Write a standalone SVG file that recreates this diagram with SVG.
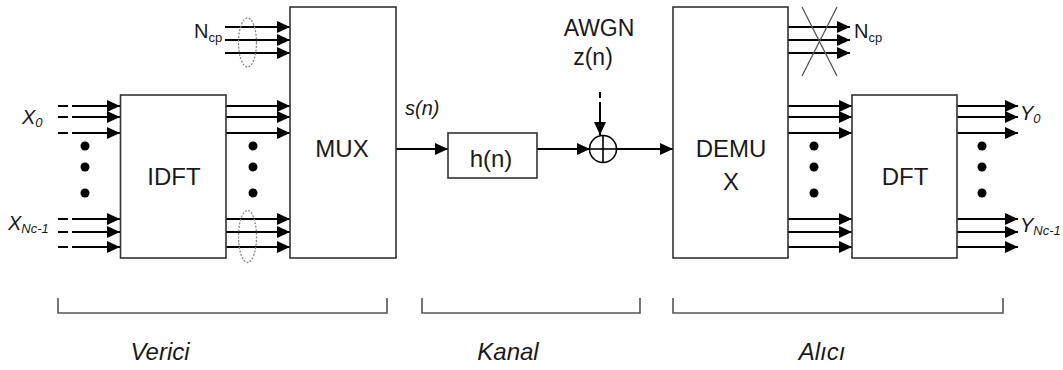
<svg xmlns="http://www.w3.org/2000/svg" width="1063" height="370" viewBox="0 0 1063 370">
<style>
.box{fill:#fff;stroke:#333;stroke-width:1.6}
.ln{stroke:#000;stroke-width:2;fill:none}
.arr{stroke:#000;stroke-width:2;fill:none;marker-end:url(#ah)}
.ell{fill:none;stroke:#888;stroke-width:1.3;stroke-dasharray:2 1.5}
.br{fill:none;stroke:#555;stroke-width:1.6}
.t{font-family:"Liberation Sans",Arial,sans-serif;fill:#1a1a1a}
.big{font-size:24px}
.lab{font-size:20px}
.sub{font-size:13px}
.it{font-style:italic}
.dot{fill:#000}
</style>
<defs>
<marker id="ah" markerWidth="14" markerHeight="12" refX="13" refY="6" orient="auto" markerUnits="userSpaceOnUse">
<path d="M0,0 L13,6 L0,12 z" fill="#000"/>
</marker>
</defs>

<g id="connectors">
<!-- inputs to IDFT -->
<line class="ln" x1="58" y1="106" x2="68" y2="106"/><line class="arr" x1="72" y1="106" x2="120" y2="106"/>
<line class="ln" x1="58" y1="117" x2="68" y2="117"/><line class="arr" x1="72" y1="117" x2="120" y2="117"/>
<line class="ln" x1="58" y1="133" x2="68" y2="133"/><line class="arr" x1="72" y1="133" x2="120" y2="133"/>
<line class="ln" x1="58" y1="219" x2="68" y2="219"/><line class="arr" x1="72" y1="219" x2="120" y2="219"/>
<line class="ln" x1="58" y1="232" x2="68" y2="232"/><line class="arr" x1="72" y1="232" x2="120" y2="232"/>
<line class="ln" x1="58" y1="247" x2="68" y2="247"/><line class="arr" x1="72" y1="247" x2="120" y2="247"/>
<!-- Ncp into MUX -->
<line class="arr" x1="225" y1="27" x2="290" y2="27"/>
<line class="arr" x1="225" y1="40" x2="290" y2="40"/>
<line class="arr" x1="225" y1="53" x2="290" y2="53"/>
<!-- IDFT to MUX -->
<line class="arr" x1="226" y1="106" x2="290" y2="106"/>
<line class="arr" x1="226" y1="117" x2="290" y2="117"/>
<line class="arr" x1="226" y1="133" x2="290" y2="133"/>
<line class="arr" x1="226" y1="219" x2="290" y2="219"/>
<line class="arr" x1="226" y1="232" x2="290" y2="232"/>
<line class="arr" x1="226" y1="247" x2="290" y2="247"/>
<!-- MUX to h(n) -->
<line class="arr" x1="396" y1="149" x2="448" y2="149"/>
<!-- h(n) to adder -->
<line class="arr" x1="537" y1="149" x2="590" y2="149"/>
<!-- AWGN to adder -->
<line class="ln" x1="600" y1="92" x2="600" y2="98"/>
<line class="arr" x1="600" y1="102" x2="600" y2="135"/>
<!-- adder to DEMUX -->
<line class="arr" x1="617" y1="149" x2="673" y2="149"/>
<!-- DEMUX Ncp out -->
<line class="arr" x1="788" y1="27" x2="850" y2="27"/>
<line class="arr" x1="788" y1="40" x2="850" y2="40"/>
<line class="arr" x1="788" y1="53" x2="850" y2="53"/>
<!-- DEMUX to DFT -->
<line class="arr" x1="788" y1="106" x2="852" y2="106"/>
<line class="arr" x1="788" y1="117" x2="852" y2="117"/>
<line class="arr" x1="788" y1="133" x2="852" y2="133"/>
<line class="arr" x1="788" y1="219" x2="852" y2="219"/>
<line class="arr" x1="788" y1="232" x2="852" y2="232"/>
<line class="arr" x1="788" y1="247" x2="852" y2="247"/>
<!-- DFT outputs -->
<line class="arr" x1="957" y1="106" x2="1018" y2="106"/>
<line class="arr" x1="957" y1="117" x2="1018" y2="117"/>
<line class="arr" x1="957" y1="133" x2="1018" y2="133"/>
<line class="arr" x1="957" y1="219" x2="1018" y2="219"/>
<line class="arr" x1="957" y1="232" x2="1018" y2="232"/>
<line class="arr" x1="957" y1="247" x2="1018" y2="247"/>
</g>

<g id="decorations">
<ellipse class="ell" cx="247.5" cy="42.5" rx="9" ry="24.5"/>
<ellipse class="ell" cx="247.5" cy="236.5" rx="9" ry="26"/>
<line x1="802" y1="7" x2="837" y2="76" stroke="#555" stroke-width="1.3"/>
<line x1="837" y1="7" x2="802" y2="76" stroke="#555" stroke-width="1.3"/>
<circle class="dot" cx="85" cy="146" r="4.5"/><circle class="dot" cx="85" cy="167" r="4.5"/><circle class="dot" cx="85" cy="193" r="4.5"/>
<circle class="dot" cx="253" cy="146" r="4.5"/><circle class="dot" cx="253" cy="167" r="4.5"/><circle class="dot" cx="253" cy="193" r="4.5"/>
<circle class="dot" cx="814" cy="146" r="4.5"/><circle class="dot" cx="814" cy="167" r="4.5"/><circle class="dot" cx="814" cy="193" r="4.5"/>
<circle class="dot" cx="982" cy="146" r="4.5"/><circle class="dot" cx="982" cy="167" r="4.5"/><circle class="dot" cx="982" cy="193" r="4.5"/>
</g>

<g id="idft">
<rect class="box" x="120.5" y="95" width="105.5" height="163"/>
<text class="t big" x="174" y="185" text-anchor="middle">IDFT</text>
</g>
<g id="mux">
<rect class="box" x="290" y="7" width="106" height="251"/>
<text class="t big" x="342" y="157" text-anchor="middle">MUX</text>
</g>
<g id="channel">
<rect class="box" x="448" y="133" width="89" height="45"/>
<text class="t big" x="491" y="167" text-anchor="middle">h(n)</text>
</g>
<g id="adder">
<circle cx="603" cy="149" r="13.5" fill="#fff" stroke="#000" stroke-width="1.6"/>
<line x1="589.5" y1="149" x2="616.5" y2="149" stroke="#000" stroke-width="1.6"/>
<line x1="603" y1="135.5" x2="603" y2="162.5" stroke="#000" stroke-width="1.6"/>
</g>
<g id="demux">
<rect class="box" x="673" y="7" width="115" height="251"/>
<text class="t big" x="731" y="157" text-anchor="middle">DEMU</text>
<text class="t big" x="731" y="190" text-anchor="middle">X</text>
</g>
<g id="dft">
<rect class="box" x="852" y="95" width="105" height="163"/>
<text class="t big" x="905" y="185" text-anchor="middle">DFT</text>
</g>

<g id="labels">
<text class="t lab it" x="22" y="124">X<tspan class="sub" dy="3">0</tspan></text>
<text class="t lab it" x="8" y="230">X<tspan class="sub" dy="3">Nc-1</tspan></text>
<text class="t lab" x="194" y="38">N<tspan class="sub" dy="4">cp</tspan></text>
<text class="t lab" x="854" y="38">N<tspan class="sub" dy="4">cp</tspan></text>
<text class="t lab it" x="1020" y="120">Y<tspan class="sub" dy="3">0</tspan></text>
<text class="t lab it" x="1020" y="232">Y<tspan class="sub" dy="3">Nc-1</tspan></text>
<text class="t lab it" x="405" y="115">s(n)</text>
<text class="t big" x="599" y="36" text-anchor="middle" style="font-size:23px">AWGN</text>
<text class="t big" x="593" y="65" text-anchor="middle" style="font-size:23px">z(n)</text>
</g>

<g id="sections">
<path class="br" d="M58,298 V313 H387 V298"/>
<path class="br" d="M422,298 V313 H640 V298"/>
<path class="br" d="M673,298 V313 H1003 V298"/>
<text class="t big it" x="160" y="360" text-anchor="middle">Verici</text>
<text class="t big it" x="508" y="360" text-anchor="middle">Kanal</text>
<text class="t big it" x="822" y="360" text-anchor="middle">Alıcı</text>
</g>
</svg>
